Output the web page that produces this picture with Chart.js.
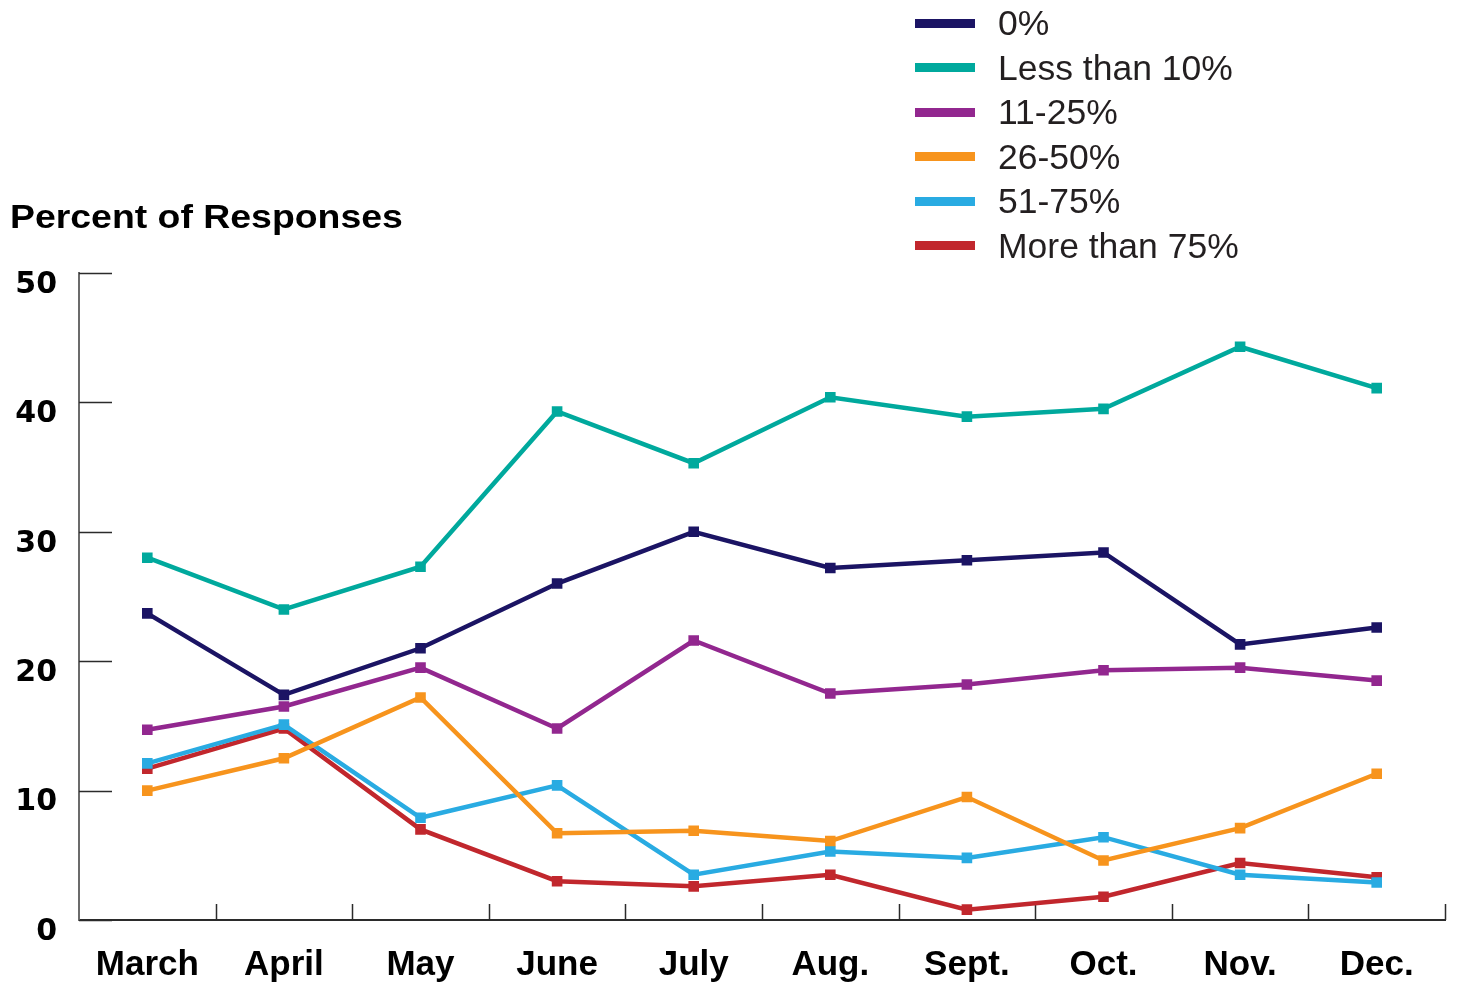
<!DOCTYPE html>
<html>
<head>
<meta charset="utf-8">
<script src="https://cdn.jsdelivr.net/npm/chart.js@4.4.1/dist/chart.umd.min.js"></script>
<style>
  body { margin: 0; background: #fff; }
  #wrap { position: relative; width: 1457px; height: 982px; }
  #title {
    position: absolute; left: 10px; top: 199px;
    font: bold 34px 'Liberation Sans', Arial, sans-serif; line-height: 34px;
    color: #000; white-space: nowrap;
    transform: scaleX(1.1); transform-origin: left center;
  }
  #legend { position: absolute; left: 915px; top: 1px; font: 35.5px 'Liberation Sans', Arial, sans-serif; color: #231f20; }
  .row { position: relative; height: 44.6px; line-height: 44.6px; }
  .row .swatch { position: absolute; left: 0; top: 17.5px; width: 60px; height: 9px; }
  .row .label { position: absolute; left: 83px; top: 0; white-space: nowrap; }
</style>
</head>
<body>
<div id="wrap">
  <canvas id="myChart" width="1457" height="982"></canvas>
  <div id="title">Percent of Responses</div>
  <div id="legend"></div>
</div>
<script>
// setup
const months = ['March', 'April', 'May', 'June', 'July', 'Aug.', 'Sept.', 'Oct.', 'Nov.', 'Dec.'];
const yTicks = [0, 10, 20, 30, 40, 50];

const zeroPct   = [23.7, 17.4, 21.0, 26.0, 30.0, 27.2, 27.8, 28.4, 21.3, 22.6];
const under10   = [28.0, 24.0, 27.3, 39.3, 35.3, 40.4, 38.9, 39.5, 44.3, 41.1];
const pct11to25 = [14.7, 16.5, 19.5, 14.8, 21.6, 17.5, 18.2, 19.3, 19.5, 18.5];
const pct26to50 = [10.0, 12.5, 17.2, 6.7, 6.9, 6.1, 9.5, 4.6, 7.1, 11.3];
const pct51to75 = [12.1, 15.1, 7.9, 10.4, 3.5, 5.3, 4.8, 6.4, 3.5, 2.9];
const over75    = [11.7, 14.8, 7.0, 3.0, 2.6, 3.5, 0.8, 1.8, 4.4, 3.3];

const FONT = "'Liberation Sans', Arial, sans-serif";

function series(label, values, color) {
    return {
        label: label,
        data: values,
        borderColor: color,
        backgroundColor: color,
        borderWidth: 4.5,
        pointStyle: 'rect',
        pointRadius: 7.5,
        pointBorderWidth: 0,
        pointBackgroundColor: color,
        tension: 0
    };
}

const data = {
    labels: months,
    datasets: [
        series('0%', zeroPct, '#1b1464'),
        series('Less than 10%', under10, '#00a99d'),
        series('11-25%', pct11to25, '#92278f'),
        series('26-50%', pct26to50, '#f7941d'),
        series('51-75%', pct51to75, '#29abe2'),
        series('More than 75%', over75, '#c1272d')
    ]
};

// short tick marks that point into the plot
const axisTicks = {
    id: 'axisTicks',
    beforeDatasetsDraw(chart) {
        const { ctx, chartArea, scales: { x, y } } = chart;
        ctx.save();
        ctx.strokeStyle = '#2b2b2b';
        ctx.lineWidth = 1.5;
        ctx.beginPath();
        yTicks.forEach(v => {
            const py = Math.round(y.getPixelForValue(v)) + 0.5;
            ctx.moveTo(chartArea.left, py);
            ctx.lineTo(chartArea.left + 33, py);
        });
        const step = x.getPixelForValue(1) - x.getPixelForValue(0);
        months.forEach((m, i) => {
            const px = Math.round(x.getPixelForValue(i) + step / 2) + 0.5;
            ctx.moveTo(px, chartArea.bottom - 16);
            ctx.lineTo(px, chartArea.bottom);
        });
        ctx.stroke();
        ctx.restore();
    }
};

// config
const config = {
    type: 'line',
    data,
    plugins: [axisTicks],
    options: {
        responsive: false,
        animation: false,
        layout: { padding: { top: 273, left: 10, right: 12, bottom: 0 } },
        plugins: {
            legend: { display: false },
            tooltip: { enabled: false }
        },
        scales: {
            x: {
                offset: true,
                grid: { display: false, drawTicks: false },
                border: { display: true, color: '#2b2b2b', width: 2 },
                ticks: {
                    padding: 24,
                    color: '#000',
                    maxRotation: 0,
                    autoSkip: false,
                    font: { family: FONT, size: 35, weight: 'bold' }
                },
                afterFit: scale => { scale.height = 62; }
            },
            y: {
                min: 0,
                max: 50,
                afterBuildTicks: scale => { scale.ticks = yTicks.map(v => ({ value: v })); },
                grid: { display: false, drawTicks: false },
                border: { display: true, color: '#6b6b6b', width: 2 },
                ticks: {
                    padding: 22,
                    labelOffset: 12,
                    color: '#000',
                    font: { family: "'DejaVu Sans', sans-serif", size: 30, weight: 'bold' }
                },
                afterFit: scale => { scale.width = 69; }
            }
        }
    }
};

// render init block
const myChart = new Chart(document.getElementById('myChart'), config);

// legend list built from the datasets
const legendEl = document.getElementById('legend');
myChart.data.datasets.forEach(ds => {
    const row = document.createElement('div');
    row.className = 'row';
    const swatch = document.createElement('span');
    swatch.className = 'swatch';
    swatch.style.background = ds.borderColor;
    const label = document.createElement('span');
    label.className = 'label';
    label.textContent = ds.label;
    row.appendChild(swatch);
    row.appendChild(label);
    legendEl.appendChild(row);
});
</script>
</body>
</html>
